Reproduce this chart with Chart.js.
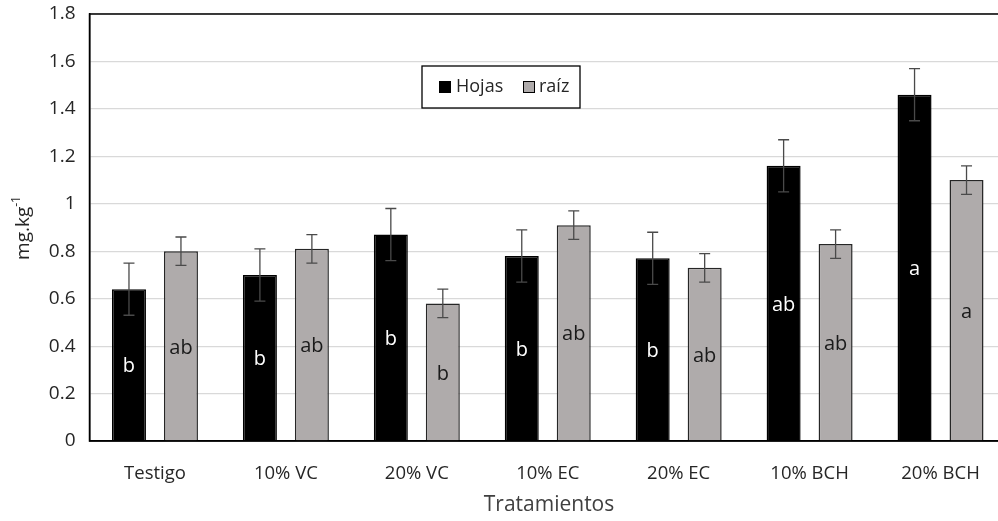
<!DOCTYPE html>
<html>
<head>
<meta charset="utf-8">
<script src="https://cdn.jsdelivr.net/npm/chart.js@4"></script>
<style>
  html, body { margin: 0; padding: 0; background: #fff; overflow: hidden; }
  #wrap { width: 998px; height: 521px; overflow: hidden; }
</style>
</head>
<body>
<!-- plot area runs past the right edge in the original, so the canvas is a bit wider and clipped -->
<div id="wrap"><canvas id="chart" width="1006" height="521"></canvas></div>
<script>
// categories and values
var tratamientos = ["Testigo", "10% VC", "20% VC", "10% EC", "20% EC", "10% BCH", "20% BCH"];
var hojas      = [0.64, 0.70, 0.87, 0.78, 0.77, 1.16, 1.46];
var hojasErr   = [0.11, 0.11, 0.11, 0.11, 0.11, 0.11, 0.11];
var hojasLetra = ["b", "b", "b", "b", "b", "ab", "a"];
var raiz       = [0.80, 0.81, 0.58, 0.91, 0.73, 0.83, 1.10];
var raizErr    = [0.06, 0.06, 0.06, 0.06, 0.06, 0.06, 0.06];
var raizLetra  = ["ab", "ab", "b", "ab", "ab", "ab", "a"];
var yTicks     = ["0", "0.2", "0.4", "0.6", "0.8", "1", "1.2", "1.4", "1.6", "1.8"];

const FONT = "'Open Sans', 'Liberation Sans', sans-serif";
const GRAY_BAR = "#afabab";

// error bars + letters inside bars
const barExtras = {
    id: "barExtras",
    afterDatasetsDraw(chart) {
        const ctx = chart.ctx;
        const y = chart.scales.y;
        const errs = [hojasErr, raizErr];
        const letters = [hojasLetra, raizLetra];
        const colors = ["#ffffff", "#1a1a1a"];
        ctx.save();
        chart.data.datasets.forEach(function (ds, d) {
            const meta = chart.getDatasetMeta(d);
            meta.data.forEach(function (bar, i) {
                const v = ds.data[i];
                const top = y.getPixelForValue(v + errs[d][i]);
                const bot = y.getPixelForValue(v - errs[d][i]);
                ctx.strokeStyle = "#4a4a4a";
                ctx.lineWidth = 1.3;
                ctx.beginPath();
                ctx.moveTo(bar.x, top); ctx.lineTo(bar.x, bot);
                ctx.moveTo(bar.x - 5.5, top); ctx.lineTo(bar.x + 5.5, top);
                ctx.moveTo(bar.x - 5.5, bot); ctx.lineTo(bar.x + 5.5, bot);
                ctx.stroke();

                ctx.fillStyle = colors[d];
                ctx.font = "20px " + FONT;
                ctx.textAlign = "center";
                ctx.textBaseline = "middle";
                ctx.fillText(letters[d][i], bar.x, (bar.y + bar.base) / 2 + 2);
            });
        });
        ctx.restore();
    }
};

// frame, axis titles and the inset legend
const decor = {
    id: "decor",
    afterDraw(chart) {
        const ctx = chart.ctx;
        const a = chart.chartArea;
        ctx.save();
        ctx.strokeStyle = "#000";
        ctx.lineWidth = 1.5;
        ctx.strokeRect(a.left, a.top, a.right - a.left, a.bottom - a.top);

        // x title
        ctx.fillStyle = "#404040";
        ctx.font = "21px " + FONT;
        ctx.textAlign = "center";
        ctx.textBaseline = "middle";
        ctx.fillText("Tratamientos", 549, 505);

        // y title with superscript
        ctx.translate(24, 228);
        ctx.rotate(-Math.PI / 2);
        ctx.fillStyle = "#262626";
        ctx.font = "19px " + FONT;
        const main = "mg.kg";
        const wMain = ctx.measureText(main).width;
        ctx.font = "12px " + FONT;
        const wSup = ctx.measureText("-1").width;
        const start = -(wMain + wSup) / 2;
        ctx.textAlign = "left";
        ctx.font = "19px " + FONT;
        ctx.fillText(main, start, 0);
        ctx.font = "12px " + FONT;
        ctx.fillText("-1", start + wMain, -7);
        ctx.restore();

        // legend box
        ctx.save();
        ctx.fillStyle = "#fff";
        ctx.fillRect(422, 66, 158, 42);
        ctx.strokeStyle = "#000";
        ctx.lineWidth = 1.3;
        ctx.strokeRect(422, 66, 158, 42);
        ctx.font = "18px " + FONT;
        ctx.textBaseline = "middle";
        ctx.textAlign = "left";
        ctx.fillStyle = "#000";
        ctx.fillRect(439, 81, 12, 12);
        ctx.fillStyle = "#262626";
        ctx.fillText(chart.data.datasets[0].label, 456, 87);
        ctx.fillStyle = GRAY_BAR;
        ctx.fillRect(523, 81, 12, 12);
        ctx.strokeStyle = "#000";
        ctx.lineWidth = 1;
        ctx.strokeRect(523.5, 81.5, 11, 11);
        ctx.fillStyle = "#262626";
        ctx.fillText(chart.data.datasets[1].label, 539, 87);
        ctx.restore();
    }
};

new Chart(document.getElementById("chart").getContext("2d"), {
    type: "bar",
    data: {
        labels: tratamientos,
        datasets: [
            { label: "Hojas", data: hojas, backgroundColor: "#000", borderColor: "#000", borderWidth: 1.5,
              categoryPercentage: 0.794, barPercentage: 0.654 },
            { label: "raíz", data: raiz, backgroundColor: GRAY_BAR, borderColor: "#262626", borderWidth: 1.5,
              categoryPercentage: 0.794, barPercentage: 0.654 }
        ]
    },
    options: {
        responsive: false,
        animation: false,
        layout: { padding: { left: 0, right: 0, top: 14, bottom: 0 } },
        plugins: { legend: { display: false }, tooltip: { enabled: false } },
        scales: {
            x: {
                grid: { display: false },
                border: { color: "#000", width: 1.5 },
                ticks: { color: "#262626", font: { family: FONT, size: 18.5 }, padding: 14 },
                afterFit(scale) { scale.height = 80; scale.paddingLeft = 0; scale.paddingRight = 0; }
            },
            y: {
                min: 0, max: 1.8,
                grid: { color: "#d9d9d9", lineWidth: 1.2, drawTicks: false },
                border: { color: "#000", width: 1.5 },
                ticks: {
                    stepSize: 0.2, padding: 14,
                    color: "#262626", font: { family: FONT, size: 19 },
                    callback: function (v, i) { return yTicks[i]; }
                },
                afterFit(scale) { scale.width = 89.5; scale.paddingTop = 0; scale.paddingBottom = 0; }
            }
        }
    },
    plugins: [barExtras, decor]
});
</script>
</body>
</html>
